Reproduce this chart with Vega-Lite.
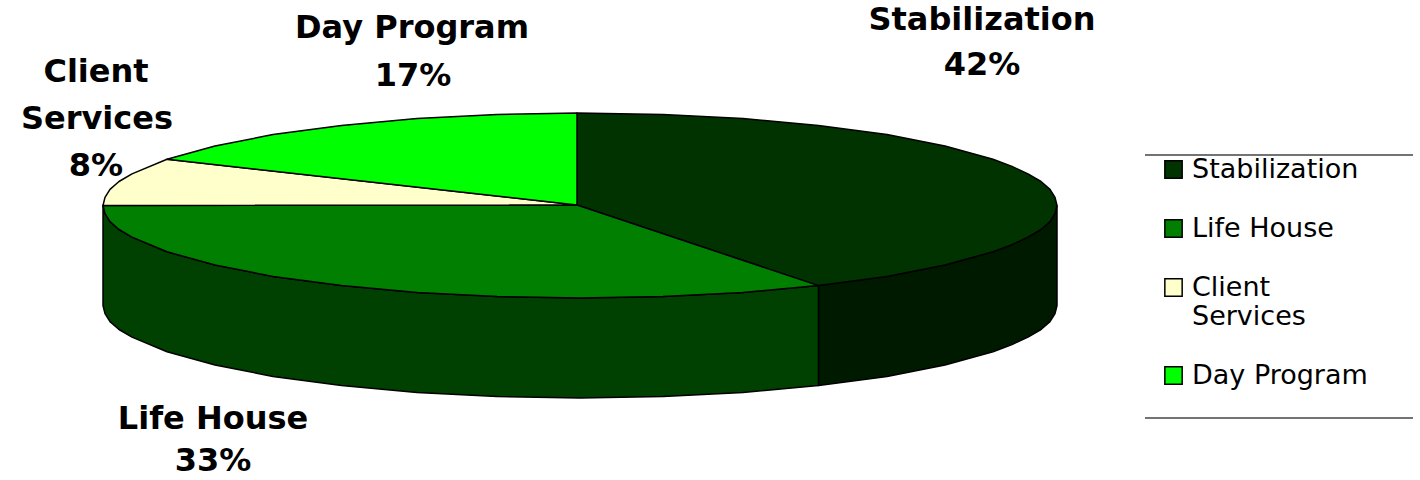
{"$schema":"https://vega.github.io/schema/vega-lite/v6.json","width":1420,"height":480,"padding":0,"autosize":"none","background":"white","view":{"stroke":null},
"datasets":{
"shapes":[
{"part":"Stabilization side","i":1,"x":1057,"y":205.5},{"part":"Stabilization side","i":1.5,"x":1055,"y":213.6},{"part":"Stabilization side","i":2,"x":1050,"y":221.6},{"part":"Stabilization side","i":2.5,"x":1041,"y":229.5},{"part":"Stabilization side","i":3,"x":1028,"y":237.1},{"part":"Stabilization side","i":3.5,"x":1012,"y":244.6},{"part":"Stabilization side","i":4,"x":993,"y":251.8},{"part":"Stabilization side","i":5,"x":945,"y":265},{"part":"Stabilization side","i":6,"x":887,"y":276.4},{"part":"Stabilization side","i":7,"x":818.5,"y":285.6},{"part":"Stabilization side","i":8,"x":818.5,"y":385.6},{"part":"Stabilization side","i":9,"x":887,"y":376.4},{"part":"Stabilization side","i":10,"x":945,"y":365},{"part":"Stabilization side","i":11,"x":993,"y":351.8},{"part":"Stabilization side","i":11.5,"x":1012,"y":344.6},{"part":"Stabilization side","i":12,"x":1028,"y":337.1},{"part":"Stabilization side","i":12.5,"x":1041,"y":329.5},{"part":"Stabilization side","i":13,"x":1050,"y":321.6},{"part":"Stabilization side","i":13.5,"x":1055,"y":313.6},{"part":"Stabilization side","i":14,"x":1057,"y":305.5},{"part":"Stabilization side","i":15,"x":1057,"y":205.5},
{"part":"Life House side","i":1,"x":818.5,"y":285.6},{"part":"Life House side","i":2,"x":743,"y":292.4},{"part":"Life House side","i":3,"x":663,"y":296.6},{"part":"Life House side","i":4,"x":580,"y":298},{"part":"Life House side","i":5,"x":497,"y":296.6},{"part":"Life House side","i":6,"x":417,"y":292.4},{"part":"Life House side","i":7,"x":341.5,"y":285.6},{"part":"Life House side","i":8,"x":273,"y":276.4},{"part":"Life House side","i":9,"x":215,"y":265},{"part":"Life House side","i":10,"x":167,"y":251.8},{"part":"Life House side","i":11,"x":132,"y":237.1},{"part":"Life House side","i":11.5,"x":119,"y":229.5},{"part":"Life House side","i":12,"x":110,"y":221.6},{"part":"Life House side","i":12.5,"x":105,"y":213.6},{"part":"Life House side","i":13,"x":103,"y":205.5},{"part":"Life House side","i":14,"x":103,"y":305.5},{"part":"Life House side","i":14.5,"x":105,"y":313.6},{"part":"Life House side","i":15,"x":110,"y":321.6},{"part":"Life House side","i":15.5,"x":119,"y":329.5},{"part":"Life House side","i":16,"x":132,"y":337.1},{"part":"Life House side","i":17,"x":167,"y":351.8},{"part":"Life House side","i":18,"x":215,"y":365},{"part":"Life House side","i":19,"x":273,"y":376.4},{"part":"Life House side","i":20,"x":341.5,"y":385.6},{"part":"Life House side","i":21,"x":417,"y":392.4},{"part":"Life House side","i":22,"x":497,"y":396.6},{"part":"Life House side","i":23,"x":580,"y":398},{"part":"Life House side","i":24,"x":663,"y":396.6},{"part":"Life House side","i":25,"x":743,"y":392.4},{"part":"Life House side","i":26,"x":818.5,"y":385.6},{"part":"Life House side","i":27,"x":818.5,"y":285.6},
{"part":"Stabilization","i":1,"x":577,"y":205},{"part":"Stabilization","i":2,"x":577,"y":113},{"part":"Stabilization","i":3,"x":663,"y":114.4},{"part":"Stabilization","i":4,"x":743,"y":118.6},{"part":"Stabilization","i":5,"x":818.5,"y":125.4},{"part":"Stabilization","i":6,"x":887,"y":134.6},{"part":"Stabilization","i":7,"x":945,"y":146},{"part":"Stabilization","i":8,"x":993,"y":159.3},{"part":"Stabilization","i":8.5,"x":1012,"y":166.4},{"part":"Stabilization","i":9,"x":1028,"y":173.9},{"part":"Stabilization","i":9.5,"x":1041,"y":181.5},{"part":"Stabilization","i":10,"x":1050,"y":189.4},{"part":"Stabilization","i":10.5,"x":1055,"y":197.4},{"part":"Stabilization","i":11,"x":1057,"y":205.5},{"part":"Stabilization","i":11.5,"x":1055,"y":213.6},{"part":"Stabilization","i":12,"x":1050,"y":221.6},{"part":"Stabilization","i":12.5,"x":1041,"y":229.5},{"part":"Stabilization","i":13,"x":1028,"y":237.1},{"part":"Stabilization","i":13.5,"x":1012,"y":244.6},{"part":"Stabilization","i":14,"x":993,"y":251.8},{"part":"Stabilization","i":15,"x":945,"y":265},{"part":"Stabilization","i":16,"x":887,"y":276.4},{"part":"Stabilization","i":17,"x":818.5,"y":285.6},{"part":"Stabilization","i":18,"x":577,"y":205},
{"part":"Life House","i":1,"x":577,"y":205},{"part":"Life House","i":2,"x":818.5,"y":285.6},{"part":"Life House","i":3,"x":743,"y":292.4},{"part":"Life House","i":4,"x":663,"y":296.6},{"part":"Life House","i":5,"x":580,"y":298},{"part":"Life House","i":6,"x":497,"y":296.6},{"part":"Life House","i":7,"x":417,"y":292.4},{"part":"Life House","i":8,"x":341.5,"y":285.6},{"part":"Life House","i":9,"x":273,"y":276.4},{"part":"Life House","i":10,"x":215,"y":265},{"part":"Life House","i":11,"x":167,"y":251.8},{"part":"Life House","i":12,"x":132,"y":237.1},{"part":"Life House","i":12.5,"x":119,"y":229.5},{"part":"Life House","i":13,"x":110,"y":221.6},{"part":"Life House","i":13.5,"x":105,"y":213.6},{"part":"Life House","i":14,"x":103,"y":205.5},{"part":"Life House","i":15,"x":577,"y":205},
{"part":"Client Services","i":1,"x":577,"y":205},{"part":"Client Services","i":2,"x":103,"y":205.5},{"part":"Client Services","i":2.5,"x":105,"y":197.4},{"part":"Client Services","i":3,"x":110,"y":189.4},{"part":"Client Services","i":3.5,"x":119,"y":181.5},{"part":"Client Services","i":4,"x":132,"y":173.9},{"part":"Client Services","i":5,"x":167,"y":159.3},{"part":"Client Services","i":6,"x":577,"y":205},
{"part":"Day Program","i":1,"x":577,"y":205},{"part":"Day Program","i":2,"x":167,"y":159.3},{"part":"Day Program","i":3,"x":215,"y":146},{"part":"Day Program","i":4,"x":273,"y":134.6},{"part":"Day Program","i":5,"x":341.5,"y":125.4},{"part":"Day Program","i":6,"x":417,"y":118.6},{"part":"Day Program","i":7,"x":497,"y":114.4},{"part":"Day Program","i":8,"x":577,"y":113},{"part":"Day Program","i":9,"x":577,"y":205}
],
"labels":[
{"t":"Stabilization","x":982,"y":20},{"t":"42%","x":982,"y":65},
{"t":"Day Program","x":412,"y":28},{"t":"17%","x":413,"y":76},
{"t":"Client","x":96,"y":72},{"t":"Services","x":97,"y":119},{"t":"8%","x":96,"y":166},
{"t":"Life House","x":213,"y":419},{"t":"33%","x":213,"y":461}
],
"rules":[{"x":1145,"x2":1413,"y":155},{"x":1145,"x2":1413,"y":418}]
},
"layer":[
{"data":{"name":"shapes"},"mark":{"type":"line","stroke":"black","strokeWidth":1.5,"strokeJoin":"round"},
"encoding":{
"x":{"field":"x","type":"quantitative","scale":{"domain":[0,1420],"nice":false,"zero":false},"axis":null},
"y":{"field":"y","type":"quantitative","scale":{"domain":[480,0],"nice":false,"zero":false},"axis":null},
"order":{"field":"i","type":"quantitative"},
"fill":{"field":"part","type":"nominal","sort":null,
"scale":{"domain":["Stabilization","Life House","Client Services","Day Program","Stabilization side","Life House side"],"range":["#003300","#007f00","#ffffcc","#00ff00","#001a00","#004000"]},
"legend":{"values":["Stabilization","Life House","Client Services","Day Program"],"title":null,"orient":"none","legendX":1160,"legendY":156,"symbolType":"square","symbolSize":300,"symbolStrokeColor":"black","symbolStrokeWidth":1.5,"labelFont":"DejaVu Sans","labelFontSize":27,"labelColor":"black","labelOffset":5,"rowPadding":31,"labelLimit":300,"labelExpr":"datum.label == 'Client Services' ? ['Client','Services'] : datum.label"}}
}},
{"data":{"name":"rules"},"mark":{"type":"rule","color":"#444","strokeWidth":1.5},"encoding":{"x":{"field":"x","type":"quantitative","scale":{"domain":[0,1420],"nice":false,"zero":false},"axis":null},"x2":{"field":"x2"},"y":{"field":"y","type":"quantitative","scale":{"domain":[480,0],"nice":false,"zero":false},"axis":null}}},
{"data":{"name":"labels"},"mark":{"type":"text","font":"DejaVu Sans","fontWeight":"bold","fontSize":32,"align":"center","baseline":"middle","color":"black"},"encoding":{"x":{"field":"x","type":"quantitative","scale":{"domain":[0,1420],"nice":false,"zero":false},"axis":null},"y":{"field":"y","type":"quantitative","scale":{"domain":[480,0],"nice":false,"zero":false},"axis":null},"text":{"field":"t"}}}
]}
